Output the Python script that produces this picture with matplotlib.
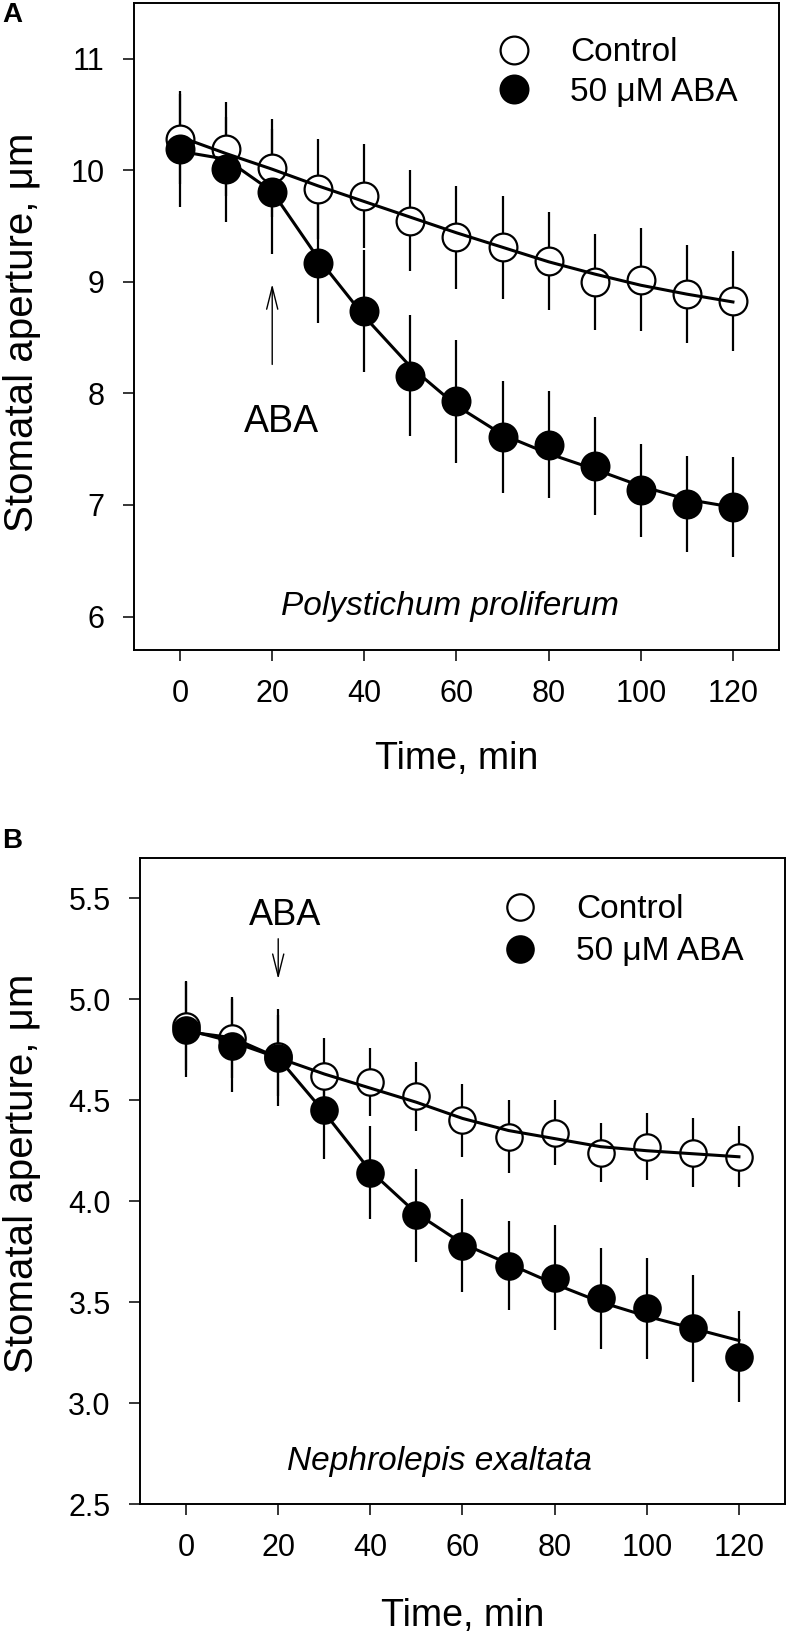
import numpy as np
import matplotlib
matplotlib.use("Agg")
import matplotlib.pyplot as plt
from matplotlib.lines import Line2D
from matplotlib.ticker import FormatStrFormatter

plt.rcParams["font.family"] = ["Liberation Sans", "DejaVu Sans"]

time_min = [0, 10, 20, 30, 40, 50, 60, 70, 80, 90, 100, 110, 120]

# panel A, Polystichum proliferum
a_ctrl = [10.28, 10.19, 10.02, 9.83, 9.77, 9.55, 9.40, 9.31, 9.19, 9.00, 9.02, 8.89, 8.83]
a_ctrl_err = [0.40, 0.42, 0.44, 0.45, 0.47, 0.45, 0.46, 0.46, 0.44, 0.43, 0.46, 0.44, 0.45]
a_aba = [10.19, 10.01, 9.81, 9.17, 8.74, 8.16, 7.93, 7.61, 7.54, 7.35, 7.13, 7.01, 6.98]
a_aba_err = [0.52, 0.47, 0.56, 0.54, 0.55, 0.54, 0.55, 0.50, 0.48, 0.44, 0.42, 0.43, 0.45]
a_ctrl_fit = [10.30, 10.15, 10.01, 9.86, 9.72, 9.58, 9.44, 9.31, 9.18, 9.07, 8.97, 8.89, 8.82]
a_aba_fit = [10.17, 10.10, 9.81, 9.21, 8.69, 8.24, 7.89, 7.63, 7.46, 7.32, 7.17, 7.05, 6.98]

# panel B, Nephrolepis exaltata
b_ctrl = [4.87, 4.81, 4.72, 4.62, 4.59, 4.52, 4.40, 4.32, 4.34, 4.24, 4.27, 4.24, 4.22]
b_ctrl_err = [0.22, 0.20, 0.20, 0.19, 0.17, 0.17, 0.18, 0.18, 0.16, 0.145, 0.165, 0.17, 0.15]
b_aba = [4.85, 4.77, 4.71, 4.45, 4.14, 3.93, 3.78, 3.68, 3.62, 3.52, 3.47, 3.37, 3.23]
b_aba_err = [0.235, 0.23, 0.24, 0.24, 0.23, 0.23, 0.23, 0.22, 0.26, 0.25, 0.25, 0.265, 0.225]
b_ctrl_fit = [4.85, 4.79, 4.71, 4.63, 4.56, 4.49, 4.41, 4.35, 4.31, 4.27, 4.25, 4.235, 4.22]
b_aba_fit = [4.84, 4.81, 4.71, 4.44, 4.15, 3.94, 3.79, 3.69, 3.59, 3.50, 3.43, 3.37, 3.31]

fig = plt.figure(figsize=(7.89, 16.39), dpi=100)
W, H = 789, 1639

def px_axes(l, t, r, b):
    return fig.add_axes([l / W, 1 - b / H, (r - l) / W, (b - t) / H])

axA = px_axes(134, 3, 779, 650)
axB = px_axes(140, 858, 785, 1504)


def draw_panel(ax, ctrl, ctrl_err, aba, aba_err, ctrl_fit, aba_fit, ms):
    ax.errorbar(time_min, ctrl, yerr=ctrl_err, fmt="none", ecolor="black",
                elinewidth=1.6, capsize=0, zorder=1)
    ax.errorbar(time_min, aba, yerr=aba_err, fmt="none", ecolor="black",
                elinewidth=1.6, capsize=0, zorder=1)
    ax.plot(time_min, ctrl, "o", ms=ms, mfc="white", mec="black", mew=1.6, zorder=2)
    ax.plot(time_min, aba, "o", ms=ms, mfc="black", mec="black", mew=1.6, zorder=3)
    ax.plot(time_min, ctrl_fit, "-", color="black", lw=2.2, zorder=4)
    ax.plot(time_min, aba_fit, "-", color="black", lw=2.2, zorder=4)

    ax.set_xlim(-10, 130)
    ax.set_xticks(range(0, 121, 20))
    for s in ["top", "right", "left", "bottom"]:
        ax.spines[s].set_linewidth(1.4)
    ax.tick_params(direction="out", length=8, width=1.1, pad=13, labelsize=22,
                   top=False, right=False)
    ax.set_xlabel("Time, min", fontsize=27, va="top")
    ax.set_ylabel("Stomatal aperture, \u03bcm", fontsize=29, va="center")

    handles = [
        Line2D([], [], ls="none", marker="o", ms=ms, mfc="white", mec="black", mew=1.6),
        Line2D([], [], ls="none", marker="o", ms=ms, mfc="black", mec="black", mew=1.6),
    ]
    return handles


hA = draw_panel(axA, a_ctrl, a_ctrl_err, a_aba, a_aba_err, a_ctrl_fit, a_aba_fit, 20)
axA.set_ylim(5.7, 11.5)
axA.set_yticks([6, 7, 8, 9, 10, 11])
axA.xaxis.set_label_coords(0.5, -0.1406)
axA.yaxis.set_label_coords(-0.1729, 0.4915)
axA.legend(hA, ["Control", "50 \u03bcM ABA"], loc="upper left",
           bbox_to_anchor=(0.564, 0.947), frameon=False, fontsize=24,
           handlelength=1.0, handletextpad=1.18, labelspacing=0.25,
           borderpad=0, borderaxespad=0)
axA.text(22.1, 7.65, "ABA", fontsize=27, ha="center", va="baseline")
axA.annotate("", xy=(20, 8.98), xytext=(20, 8.26),
             arrowprops=dict(arrowstyle="->,head_length=0.8,head_width=0.2",
                             lw=1.0, color="black", shrinkA=0, shrinkB=0,
                             mutation_scale=20))
axA.text(58.6, 6.01, "Polystichum proliferum", fontsize=24, style="italic",
         ha="center", va="baseline")

hB = draw_panel(axB, b_ctrl, b_ctrl_err, b_aba, b_aba_err, b_ctrl_fit, b_aba_fit, 19)
axB.set_ylim(2.5, 5.7)
axB.set_yticks([2.5, 3.0, 3.5, 4.0, 4.5, 5.0, 5.5])
axB.yaxis.set_major_formatter(FormatStrFormatter("%.1f"))
axB.xaxis.set_label_coords(0.5, -0.1455)
axB.yaxis.set_label_coords(-0.1822, 0.5116)
axB.legend(hB, ["Control", "50 \u03bcM ABA"], loc="upper left",
           bbox_to_anchor=(0.563, 0.944), frameon=False, fontsize=24,
           handlelength=1.0, handletextpad=1.18, labelspacing=0.33,
           borderpad=0, borderaxespad=0)
axB.text(21.6, 5.367, "ABA", fontsize=26, ha="center", va="baseline")
axB.annotate("", xy=(20, 5.10), xytext=(20, 5.30),
             arrowprops=dict(arrowstyle="->,head_length=0.8,head_width=0.2",
                             lw=1.0, color="black", shrinkA=0, shrinkB=0,
                             mutation_scale=20))
axB.text(55, 2.669, "Nephrolepis exaltata", fontsize=24, style="italic",
         ha="center", va="baseline")

fig.text(2 / W, 1 - 2 / H, "A", fontsize=20, fontweight="bold", va="top", ha="left")
fig.text(2 / W, 1 - 828 / H, "B", fontsize=20, fontweight="bold", va="top", ha="left")

fig.savefig("out.png", dpi=100)
